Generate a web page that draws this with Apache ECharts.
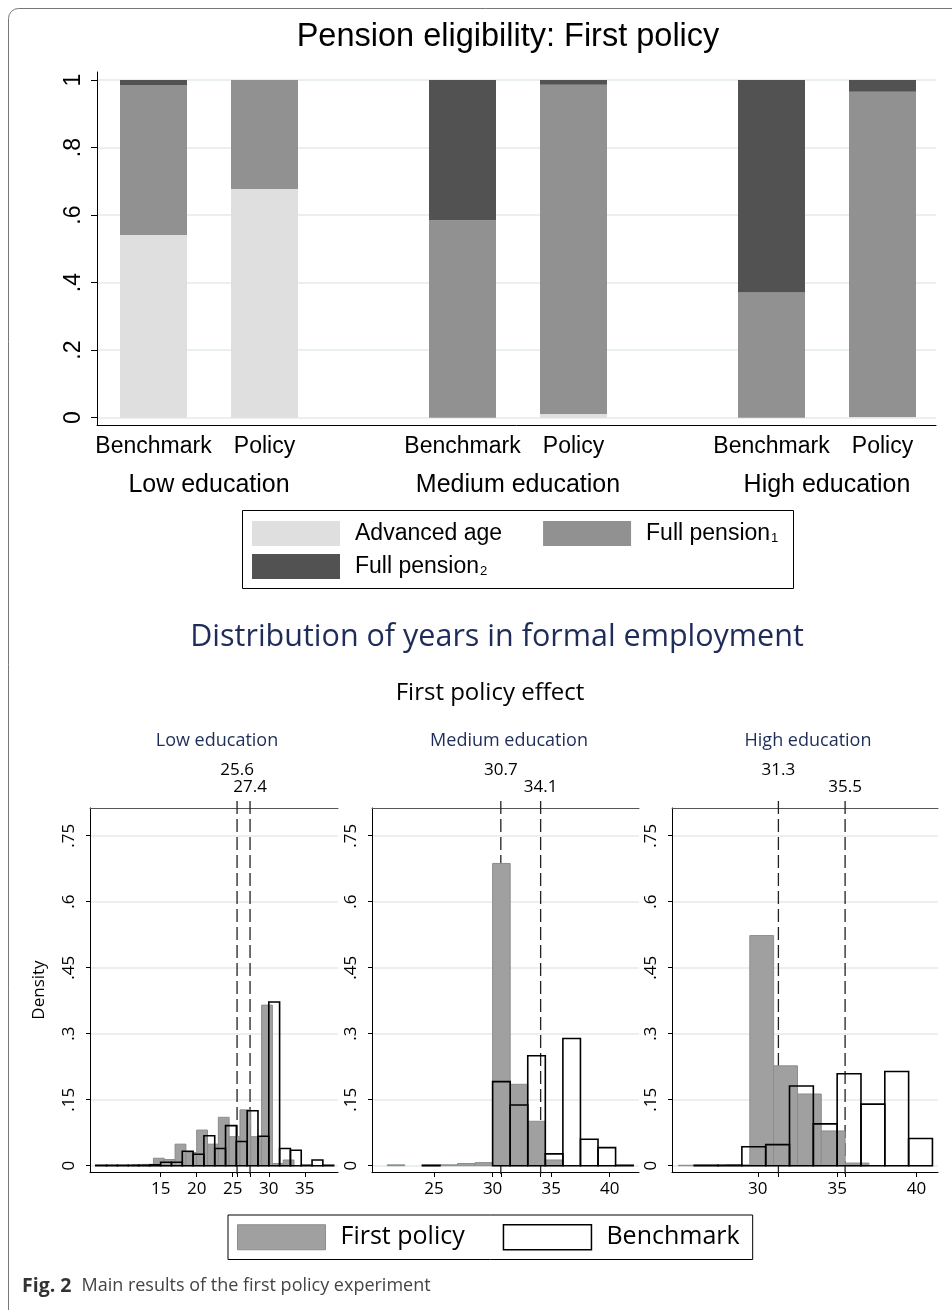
<!DOCTYPE html>
<html>
<head>
<meta charset="utf-8">
<title>Pension eligibility and formal employment</title>
<script src="https://cdn.jsdelivr.net/npm/echarts@6.0.0/dist/echarts.min.js"></script>
<style>
  html, body { margin: 0; padding: 0; background: #fff; }
  #main { width: 952px; height: 1310px; }
</style>
</head>
<body>
<div id="main"></div>
<script>
// ---- top chart: pension eligibility shares ----
const groups = ['Low education', 'Medium education', 'High education']
const scenarios = ['Benchmark', 'Policy']
// [benchmark, policy] for each education group
const advancedAge = [[0.541, 0.677], [0, 0.011], [0, 0.002]]
const fullPension1 = [[0.444, 0.323], [0.585, 0.975], [0.371, 0.963]]
const fullPension2 = [[0.015, 0], [0.415, 0.014], [0.629, 0.035]]
const shareTicks = [0, 0.2, 0.4, 0.6, 0.8, 1]

// ---- bottom: histograms of years in formal employment (bin width 1.5) ----
const binWidth = 1.5
const lowPolicyStart = 11
const lowPolicy = [0.002, 0.003, 0.017, 0.014, 0.049, 0.030, 0.081, 0.049, 0.110, 0.066, 0.127, 0.066, 0.365, 0.005, 0.013]
const lowBenchStart = 6
const lowBench = [0.001, 0.001, 0.001, 0.001, 0.001, 0.002, 0.008, 0.008, 0.033, 0.026, 0.068, 0.039, 0.091, 0.055, 0.125, 0.067, 0.372, 0.039, 0.035, 0.001, 0.013, 0.001]
const medPolicyStart = 21
const medPolicy = [0.002, 0, 0.001, 0.002, 0.005, 0.007, 0.687, 0.185, 0.101, 0.013]
const medBenchStart = 24
const medBench = [0.001, 0, 0, 0, 0.191, 0.138, 0.250, 0.027, 0.289, 0.060, 0.041, 0.001]
const highPolicyStart = 25
const highPolicy = [0.001, 0.001, 0.002, 0.523, 0.227, 0.163, 0.079, 0.006]
const highBenchStart = 26
const highBench = [0.001, 0.001, 0.043, 0.048, 0.181, 0.095, 0.209, 0.140, 0.214, 0.062]
// means: [first policy, benchmark]
const lowMeans = [25.6, 27.4]
const medMeans = [30.7, 34.1]
const highMeans = [31.3, 35.5]
const densityTicks = [0, 0.15, 0.3, 0.45, 0.6, 0.75]

const SANS = 'Liberation Sans, Arial, sans-serif'
const HUM = 'Open Sans, Noto Sans, sans-serif'
const NAVY = '#1e2c5a'
const GRIDC = '#e3ebee'
const C_LIGHT = '#dfdfdf'
const C_MID = '#919191'
const C_DARK = '#525252'
const C_HIST = '#a0a0a0'

const yMinTop = -0.0216
const yMaxTop = 1.0237
const yMinHist = -0.0143
const yMaxHist = 0.813

function tickText(v) {
  return v === 0 ? '0' : String(v).replace(/^0\./, '.')
}

function toBins(start, values) {
  return values.map((h, i) => [start + i * binWidth, start + (i + 1) * binWidth, h])
}

function binRenderer(fill, stroke, lw) {
  return function (params, api) {
    const h = api.value(2)
    if (!h) return null
    const a = api.coord([api.value(0), h])
    const b = api.coord([api.value(1), 0])
    return {
      type: 'rect',
      shape: { x: a[0], y: a[1], width: b[0] - a[0], height: b[1] - a[1] },
      style: { fill: fill, stroke: stroke, lineWidth: lw }
    }
  }
}

function meanLine(params, api) {
  const top = api.coord([api.value(0), yMaxHist])
  const bot = api.coord([api.value(0), yMinHist])
  return {
    type: 'line',
    shape: { x1: top[0], y1: top[1] - 7, x2: top[0], y2: bot[1] + 5 },
    style: { stroke: '#222', lineWidth: 1.3, lineDash: [13, 5] }
  }
}

const grid = []
const xAxis = []
const yAxis = []
const series = []

// grid 0: shared y axis and gridlines for the top chart
grid.push({ left: 97, top: 72, width: 839, height: 353 })
xAxis.push({
  gridIndex: 0, type: 'value', min: 0, max: 1,
  axisLine: { show: true, onZero: false, lineStyle: { color: '#000', width: 1 } },
  axisTick: { show: false }, axisLabel: { show: false }, splitLine: { show: false }
})
yAxis.push({
  gridIndex: 0, type: 'value', min: yMinTop, max: yMaxTop,
  axisLine: { show: true, lineStyle: { color: '#000', width: 1 } },
  axisTick: { show: true, length: 6, customValues: shareTicks, lineStyle: { color: '#000' } },
  axisLabel: {
    customValues: shareTicks, rotate: 90, margin: 12, fontSize: 23,
    fontFamily: SANS, color: '#000', formatter: tickText
  },
  splitLine: { show: true, lineStyle: { color: GRIDC, width: 1.5 } }
})

groups.forEach(function (g, gi) {
  const idx = gi + 1
  grid.push({ left: 98 + gi * 309, top: 72, width: 222, height: 353 })
  xAxis.push({
    gridIndex: idx, type: 'category', data: scenarios,
    name: g, nameLocation: 'middle', nameGap: 48,
    nameTextStyle: { fontSize: 25, fontFamily: SANS, color: '#000' },
    axisLine: { show: false }, axisTick: { show: false },
    axisLabel: { interval: 0, margin: 10, fontSize: 23, fontFamily: SANS, color: '#000' }
  })
  yAxis.push({ gridIndex: idx, type: 'value', min: yMinTop, max: yMaxTop, show: false, splitLine: { show: false } })
  const parts = [
    ['Advanced age', advancedAge[gi], C_LIGHT],
    ['Full pension1', fullPension1[gi], C_MID],
    ['Full pension2', fullPension2[gi], C_DARK]
  ]
  parts.forEach(function (p) {
    series.push({
      name: p[0], type: 'bar', stack: 'g' + gi,
      xAxisIndex: idx, yAxisIndex: idx,
      barWidth: 67, z: 2,
      itemStyle: { color: p[2] },
      data: p[1]
    })
  })
})

// bottom histogram panels
const panels = [
  { title: 'Low education', left: 90, width: 248, min: 5.2, max: 39.6, ticks: [15, 20, 25, 30, 35],
    policy: toBins(lowPolicyStart, lowPolicy), bench: toBins(lowBenchStart, lowBench), means: lowMeans },
  { title: 'Medium education', left: 372, width: 267, min: 19.7, max: 42.5, ticks: [25, 30, 35, 40],
    policy: toBins(medPolicyStart, medPolicy), bench: toBins(medBenchStart, medBench), means: medMeans },
  { title: 'High education', left: 672, width: 266, min: 24.6, max: 41.35, ticks: [30, 35, 40],
    policy: toBins(highPolicyStart, highPolicy), bench: toBins(highBenchStart, highBench), means: highMeans }
]

panels.forEach(function (p, pi) {
  const gIdx = 4 + pi
  const xb = xAxis.length
  grid.push({ left: p.left, top: 808, width: p.width, height: 364 })
  xAxis.push({
    gridIndex: gIdx, type: 'value', position: 'bottom', min: p.min, max: p.max,
    axisLine: { show: true, onZero: false, lineStyle: { color: '#000', width: 1 } },
    axisTick: { show: true, length: 5, customValues: p.ticks.concat(p.means), lineStyle: { color: '#000' } },
    axisLabel: { customValues: p.ticks, margin: 9, fontSize: 17, fontFamily: HUM, color: '#000' },
    splitLine: { show: false }
  })
  xAxis.push({
    gridIndex: gIdx, type: 'value', position: 'top', min: p.min, max: p.max,
    axisLine: { show: true, onZero: false, lineStyle: { color: '#555', width: 1 } },
    axisTick: { show: false, customValues: p.means },
    axisLabel: {
      customValues: p.means, margin: 12, fontSize: 17, fontFamily: HUM, color: '#000',
      formatter: function (v) { return v === p.means[0] ? '{hi|' + v + '}' : '{lo|' + v + '}' },
      rich: { hi: { padding: [0, 0, 17, 0] }, lo: {} }
    },
    splitLine: { show: false }
  })
  yAxis.push({
    gridIndex: gIdx, type: 'value', min: yMinHist, max: yMaxHist,
    name: pi === 0 ? 'Density' : '', nameLocation: 'middle', nameGap: 42,
    nameTextStyle: { fontSize: 17, fontFamily: HUM, color: '#000' },
    axisLine: { show: true, lineStyle: { color: '#000', width: 1 } },
    axisTick: { show: true, length: 4, customValues: densityTicks, lineStyle: { color: '#000' } },
    axisLabel: {
      customValues: densityTicks, rotate: 90, margin: 12, fontSize: 17,
      fontFamily: HUM, color: '#000', formatter: tickText
    },
    splitLine: { show: true, lineStyle: { color: GRIDC, width: 1.5 } }
  })
  const yIdx = yAxis.length - 1
  series.push({
    name: 'mean', type: 'custom', xAxisIndex: xb, yAxisIndex: yIdx, z: 1,
    renderItem: meanLine, silent: true,
    data: p.means.map(function (m) { return [m, 0] })
  })
  series.push({
    name: 'First policy', type: 'custom', xAxisIndex: xb, yAxisIndex: yIdx, z: 2,
    itemStyle: { color: C_HIST, borderColor: '#8c8c8c', borderWidth: 1 },
    encode: { x: [0, 1], y: 2 },
    renderItem: binRenderer(C_HIST, '#8c8c8c', 1),
    data: p.policy
  })
  series.push({
    name: 'Benchmark', type: 'custom', xAxisIndex: xb, yAxisIndex: yIdx, z: 3,
    itemStyle: { color: '#fff', borderColor: '#000', borderWidth: 1.5 },
    encode: { x: [0, 1], y: 2 },
    renderItem: binRenderer('none', '#000', 1.6),
    data: p.bench
  })
})

const graphic = [
  { type: 'rect', silent: true, shape: { x: 8.5, y: 8.5, width: 1000, height: 1400, r: 10 },
    style: { fill: 'none', stroke: '#777', lineWidth: 1 } },
  // box around the two-row top legend
  { type: 'rect', silent: true, shape: { x: 242.5, y: 510.5, width: 551, height: 78 },
    style: { fill: 'none', stroke: '#000', lineWidth: 1 } },
  { type: 'text', x: 508, y: 37, silent: true,
    style: { text: 'Pension eligibility: First policy', fontSize: 32.5, fontFamily: SANS, fill: '#000', align: 'center', verticalAlign: 'middle' } },
  { type: 'text', x: 497, y: 637, silent: true,
    style: { text: 'Distribution of years in formal employment', fontSize: 30.5, fontFamily: HUM, fill: NAVY, align: 'center', verticalAlign: 'middle' } },
  { type: 'text', x: 490, y: 693, silent: true,
    style: { text: 'First policy effect', fontSize: 24, fontFamily: HUM, fill: '#000', align: 'center', verticalAlign: 'middle' } },
  { type: 'text', x: 22, y: 1286, silent: true,
    style: {
      text: '{b|Fig. 2}{n|Main results of the first policy experiment}',
      verticalAlign: 'middle', align: 'left',
      rich: {
        b: { fontSize: 19.5, fontWeight: 'bold', fontFamily: HUM, fill: '#333' },
        n: { fontSize: 18, fontFamily: HUM, fill: '#444', padding: [0, 0, 0, 10] }
      }
    } }
]
const panelCenters = [217, 509, 808]
panels.forEach(function (p, pi) {
  graphic.push({ type: 'text', x: panelCenters[pi], y: 741, silent: true,
    style: { text: p.title, fontSize: 18, fontFamily: HUM, fill: NAVY, align: 'center', verticalAlign: 'middle' } })
})

function pensionLabel(name) {
  if (name === 'Advanced age') return '{t|Advanced age}'
  if (name === 'Full pension1') return '{t|Full pension}{s|1}'
  return '{t|Full pension}{s|2}'
}
const pensionText = {
  fontSize: 23, fontFamily: SANS, color: '#000',
  rich: {
    t: { fontSize: 23, fontFamily: SANS, padding: [0, 0, 0, 10] },
    s: { fontSize: 13, fontFamily: SANS, verticalAlign: 'bottom', padding: [0, 0, 0, 1] }
  }
}

const chart = echarts.init(document.getElementById('main'))
chart.setOption({
  backgroundColor: '#fff',
  animation: false,
  grid: grid,
  xAxis: xAxis,
  yAxis: yAxis,
  legend: [
    {
      data: ['Advanced age', 'Full pension1'],
      left: 252, top: 521, orient: 'horizontal',
      padding: 0, itemGap: 41, itemWidth: 88, itemHeight: 25,
      icon: 'rect', selectedMode: false,
      formatter: pensionLabel, textStyle: pensionText
    },
    {
      data: ['Full pension2'],
      left: 252, top: 554, orient: 'horizontal',
      padding: 0, itemWidth: 88, itemHeight: 25,
      icon: 'rect', selectedMode: false,
      formatter: pensionLabel, textStyle: pensionText
    },
    {
      data: [
        { name: 'First policy', itemStyle: { color: C_HIST, borderColor: '#8c8c8c', borderWidth: 1 } },
        { name: 'Benchmark', itemStyle: { color: '#fff', borderColor: '#000', borderWidth: 1.5 } }
      ],
      left: 228, top: 1215, orient: 'horizontal',
      padding: [9, 13, 9, 9], itemGap: 38, itemWidth: 88, itemHeight: 25,
      icon: 'rect', selectedMode: false,
      borderColor: '#000', borderWidth: 1,
      formatter: function (name) { return '{p|' + name + '}' },
      textStyle: {
        fontSize: 25, fontFamily: HUM, color: '#000',
        rich: { p: { fontSize: 25, fontFamily: HUM, padding: [0, 0, 0, 10] } }
      }
    }
  ],
  graphic: graphic,
  series: series
})
</script>
</body>
</html>
